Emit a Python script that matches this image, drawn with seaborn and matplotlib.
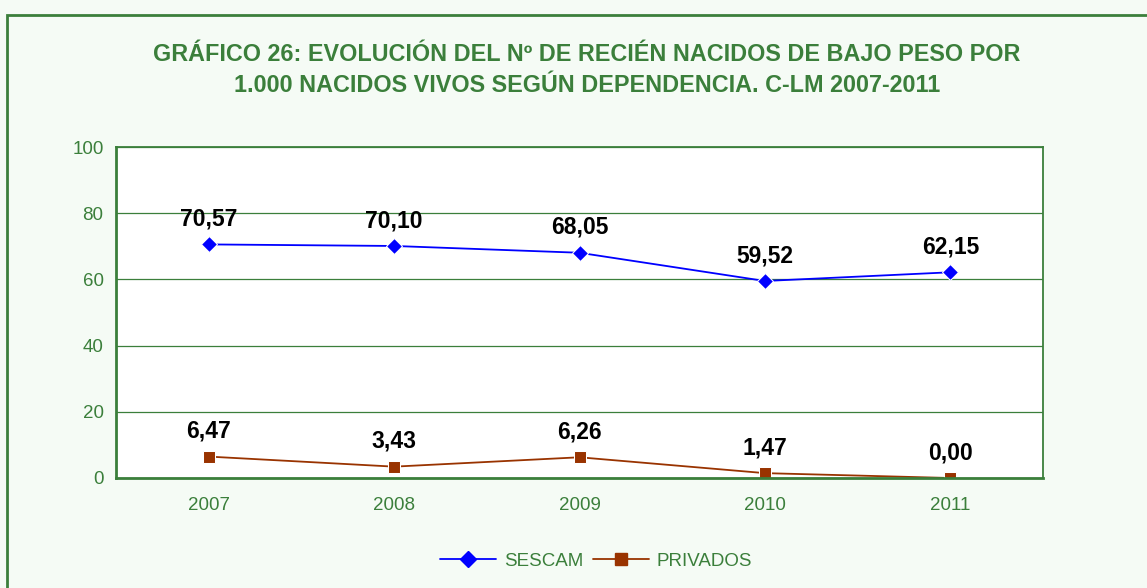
import matplotlib
matplotlib.use("Agg")
import matplotlib.pyplot as plt
import matplotlib.patches as mpatches
import pandas as pd
import seaborn as sns

years = ["2007", "2008", "2009", "2010", "2011"]
sescam = [70.57, 70.10, 68.05, 59.52, 62.15]
privados = [6.47, 3.43, 6.26, 1.47, 0.00]

GREEN = "#3B7F3B"
BG = "#F5FBF5"

sns.set_style("white")
plt.rcParams["font.family"] = ["Liberation Sans", "DejaVu Sans"]

df = pd.DataFrame({
    "pos": list(range(len(years))) * 2,
    "valor": sescam + privados,
    "serie": ["SESCAM"] * len(years) + ["PRIVADOS"] * len(years),
})

fig = plt.figure(figsize=(11.47, 5.88), dpi=100, facecolor=BG)
ax = fig.add_axes([116 / 1147, 1 - 478 / 588, (1043 - 116) / 1147, (478 - 147) / 588])
ax.set_facecolor("white")

# frame around the chart area
fig.patches.append(mpatches.Rectangle((7 / 1147, -0.1), 1.2, 1 - 15 / 588 + 0.1,
                                      transform=fig.transFigure, fill=False,
                                      edgecolor=GREEN, linewidth=2, clip_on=False))

sns.lineplot(data=df, x="pos", y="valor", hue="serie", style="serie",
             palette={"SESCAM": "#0000FF", "PRIVADOS": "#993300"},
             markers={"SESCAM": "D", "PRIVADOS": "s"}, dashes=False,
             markersize=8, linewidth=1.3, ax=ax, legend=False)

for i in range(len(years)):
    ax.text(i, sescam[i] + 4.2, f"{sescam[i]:.2f}".replace(".", ","), ha="center", va="bottom",
            fontsize=16.5, fontweight="bold", color="black")
    ax.text(i, privados[i] + 4.2, f"{privados[i]:.2f}".replace(".", ","), ha="center", va="bottom",
            fontsize=16.5, fontweight="bold", color="black")

ax.set_xlim(-0.5, len(years) - 0.5)
ax.set_ylim(0, 100)
ax.set_yticks(range(0, 101, 20))
ax.set_xticks(range(len(years)))
ax.set_xticklabels(years)
ax.set_xticks([i - 0.5 for i in range(len(years) + 1)], minor=True)
ax.tick_params(axis="x", which="major", length=0, pad=14, labelcolor=GREEN, labelsize=13.5)
ax.tick_params(axis="x", which="minor", length=5, color=GREEN, width=1.2)
ax.tick_params(axis="y", length=5, color=GREEN, width=1.2, labelcolor=GREEN, labelsize=13.5, pad=4)
ax.yaxis.grid(True, color=GREEN, linewidth=0.9)
ax.set_xlabel("")
ax.set_ylabel("")
for s in ax.spines.values():
    s.set_color(GREEN)
    s.set_linewidth(1.3)
ax.spines["left"].set_linewidth(2)
ax.spines["bottom"].set_linewidth(2)

fig.text(587 / 1147, 1 - 70 / 588,
         "GRÁFICO 26: EVOLUCIÓN DEL Nº DE RECIÉN NACIDOS DE BAJO PESO POR\n"
         "1.000 NACIDOS VIVOS SEGÚN DEPENDENCIA. C-LM 2007-2011",
         ha="center", va="center", fontsize=16.8, fontweight="bold", color=GREEN,
         linespacing=1.45)

handles = [
    plt.Line2D([], [], color="#0000FF", marker="D", markersize=8, linewidth=1.3),
    plt.Line2D([], [], color="#993300", marker="s", markersize=8, linewidth=1.3),
]
leg = fig.legend(handles, ["SESCAM", "PRIVADOS"], loc="center", bbox_to_anchor=(596 / 1147, 1 - 561 / 588),
                 ncol=2, frameon=False, fontsize=13.5, handlelength=3.0, handletextpad=0.4,
                 columnspacing=0.5)
for t in leg.get_texts():
    t.set_color(GREEN)

fig.savefig("out.png", dpi=100, facecolor=BG)
